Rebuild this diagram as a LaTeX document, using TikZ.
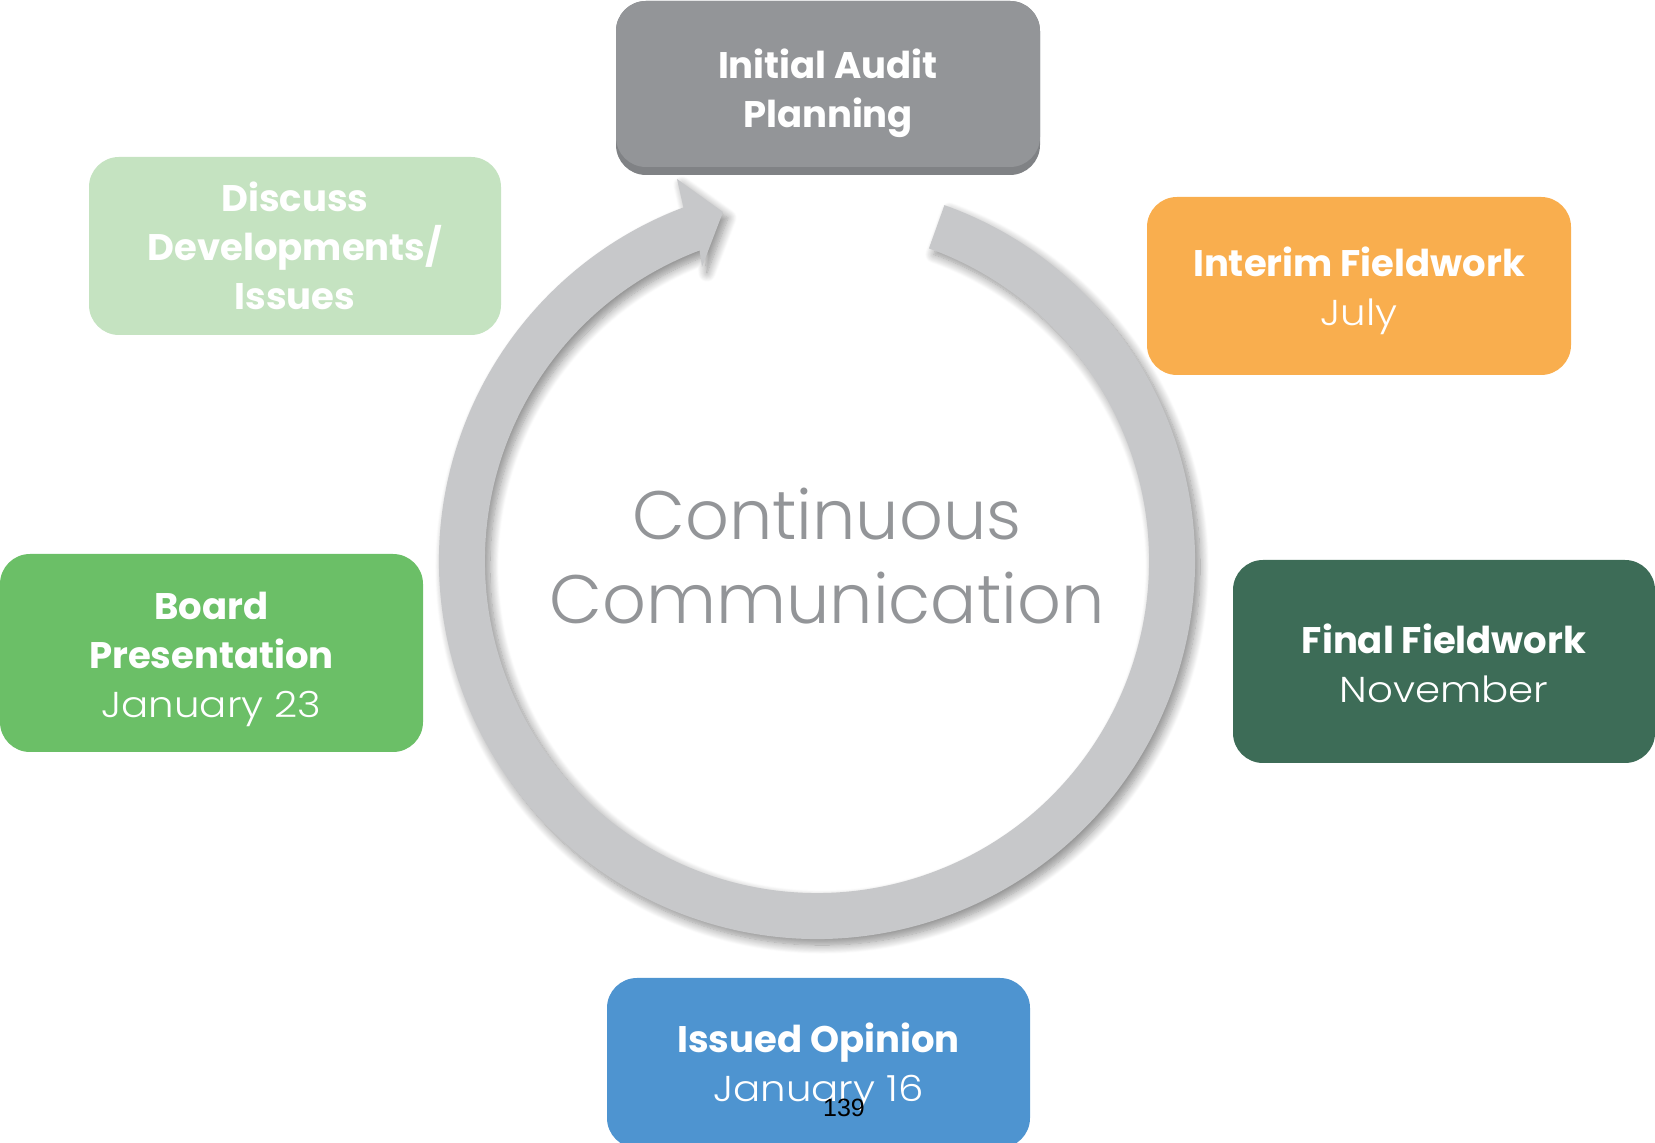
\documentclass[tikz,border=0pt]{standalone}
\usepackage{fontspec}
\setmainfont{Poppins}
\newfontfamily\lightf{Poppins Light}[FakeStretch=1.12]
\newfontfamily\centerf{Poppins Light}
\newfontfamily\numf{Liberation Sans}
\usetikzlibrary{shadows.blur,calc}
\definecolor{ringgray}{HTML}{C7C8CA}
\definecolor{topgray}{HTML}{939598}
\definecolor{topband}{HTML}{808285}
\definecolor{discussgreen}{HTML}{C5E3C1}
\definecolor{interimorange}{HTML}{F9AE4E}
\definecolor{finalgreen}{HTML}{3D6C57}
\definecolor{boardgreen}{HTML}{6BBF67}
\definecolor{issuedblue}{HTML}{4E94D0}
\definecolor{centertext}{HTML}{939598}
\newcommand{\lightline}[1]{{\lightf\mdseries\fontsize{36}{49}\selectfont #1}}
\begin{document}
\begin{tikzpicture}[x=1pt,y=1pt,
  box/.style={rounded corners=30pt, inner sep=0pt, draw=none},
  boxtext/.style={inner sep=0pt, align=center, text=white,
    font=\bfseries\fontsize{37}{49}\selectfont},
  ringstyle/.style={fill=ringgray, draw=none,
    blur shadow={shadow xshift=5pt, shadow yshift=-6pt, shadow blur radius=9pt,
      shadow blur steps=12, shadow opacity=45}}
]
\clip (0,0) rectangle (1655,1143);
\coordinate (c) at (817,582);
% ring arrow
\path[ringstyle] ($(c)+(70.3:378)$) arc[start angle=70.3, end angle=-249.3, radius=378]
  -- (677,964) -- (723,931) -- (702,876)
  -- ($(c)+(110.7:332)$) arc[start angle=110.7, end angle=430.3, radius=332] -- cycle;
% boxes
\node[box, fill=topband, minimum width=424pt, minimum height=174pt] (topb) at (828,1055) {};
\node[box, fill=topgray, minimum width=424pt, minimum height=166pt] (top) at (828,1059) {};
\node[box, fill=discussgreen, minimum width=412pt, minimum height=178pt] (disc) at (295,897) {};
\node[box, fill=interimorange, minimum width=424pt, minimum height=178pt] (int) at (1359,857) {};
\node[box, fill=finalgreen, minimum width=422pt, minimum height=203pt] (fin) at (1444,481.5) {};
\node[box, fill=boardgreen, minimum width=423pt, minimum height=198pt] (board) at (211.5,490) {};
\node[box, fill=issuedblue, minimum width=423pt, minimum height=170pt] (iss) at (818.5,80) {};
% box texts
\node[boxtext] (topt) at ($(top.center)+(0,-9.5)$) {Initial Audit\\Planning};
\node[boxtext] (disct) at (disc.center) {Discuss\\Developments/\\Issues};
\node[boxtext] (intt) at ($(int.center)+(0,-4.5)$) {Interim Fieldwork\\\lightline{July}};
\node[boxtext] (fint) at ($(fin.center)+(0,-2)$) {Final Fieldwork\\\lightline{November}};
\node[boxtext] (boardt) at ($(board.center)+(0,-6)$) {Board\\Presentation\\\lightline{January 23}};
\node[boxtext] (isst) at ($(iss.center)+(0,-3.5)$) {Issued Opinion\\\lightline{January 16}};
% center text
\node[align=center, text=centertext, font=\centerf\fontsize{68.5}{84}\selectfont] (cc) at (827,587) {Continuous\\Communication};
% page number
\node[font=\numf\fontsize{25}{30}\selectfont, text=black] (pg) at (844,35) {139};
\end{tikzpicture}
\end{document}
